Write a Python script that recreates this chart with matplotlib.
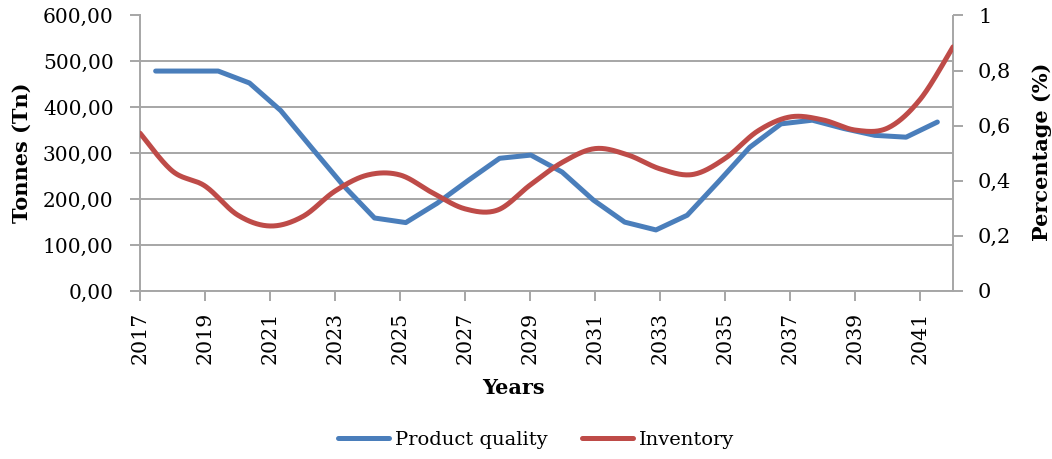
import numpy as np
import matplotlib
matplotlib.use("Agg")
import matplotlib.pyplot as plt
from matplotlib.ticker import FuncFormatter, MultipleLocator
from matplotlib.lines import Line2D

plt.rcParams['font.family'] = ['DejaVu Serif']

# Data
years = list(range(2017, 2043))
product_quality = [479, 479, 479, 453, 393, 311, 230, 159, 149, 191, 241, 289, 296,
                   259, 198, 150, 133, 165, 238, 313, 364, 372, 354, 339, 335, 368]
inventory = [0.573, 0.435, 0.381, 0.276, 0.236, 0.270, 0.363, 0.421, 0.421, 0.356,
             0.298, 0.294, 0.385, 0.468, 0.517, 0.494, 0.443, 0.423, 0.482, 0.581,
             0.632, 0.621, 0.584, 0.592, 0.697, 0.886]
year_labels = years[::2]

BLUE = '#4A7EBB'
RED = '#BE4B48'
GRID = '#A6A6A6'
FS = 14.5


def smooth(x, y, n=30):
    """Bezier smoothing through every point (Catmull-Rom style control points)."""
    x = np.asarray(x, float)
    y = np.asarray(y, float)
    px = np.concatenate([[x[0]], x, [x[-1]]])
    py = np.concatenate([[y[0]], y, [y[-1]]])
    t = np.linspace(0, 1, n)[:, None]
    segs = []
    for i in range(len(x) - 1):
        p0 = np.array([px[i], py[i]])
        p1 = np.array([px[i + 1], py[i + 1]])
        p2 = np.array([px[i + 2], py[i + 2]])
        p3 = np.array([px[i + 3], py[i + 3]])
        c1 = p1 + (p2 - p0) / 6.0
        c2 = p2 - (p3 - p1) / 6.0
        b = ((1 - t) ** 3) * p1 + 3 * ((1 - t) ** 2) * t * c1 \
            + 3 * (1 - t) * t ** 2 * c2 + t ** 3 * p2
        segs.append(b if i == 0 else b[1:])
    pts = np.vstack(segs)
    return pts[:, 0], pts[:, 1]


fig = plt.figure(figsize=(10.52, 4.59), dpi=100)
rect = [140 / 1052, 1 - 291 / 459, (953 - 140) / 1052, (291 - 15.5) / 459]

# Primary axes: product quality in tonnes, categories centred between ticks
ax = fig.add_axes(rect)
ax.set_xlim(-0.5, len(product_quality) - 0.5)
ax.set_ylim(0, 600)
ax.plot(np.arange(len(product_quality)), product_quality, color=BLUE, lw=3.6,
        solid_joinstyle='round', solid_capstyle='round', zorder=3)
ax.yaxis.set_major_locator(MultipleLocator(100))
ax.yaxis.set_major_formatter(FuncFormatter(lambda v, p: f"{v:.2f}".replace('.', ',')))
ax.yaxis.grid(True, color=GRID, lw=1.4)
ax.set_axisbelow(True)
ax.set_xticks([])
for s in ('top', 'right', 'bottom'):
    ax.spines[s].set_visible(False)
ax.spines['left'].set_color(GRID)
ax.spines['left'].set_linewidth(1.4)
ax.tick_params(axis='y', length=7, width=1.4, color=GRID, labelsize=FS, pad=12)

# Secondary axes: inventory percentage, points on the year ticks
ax2 = fig.add_axes(rect)
ax2.patch.set_visible(False)
ax2.set_xlim(years[0], years[-1])
ax2.set_ylim(0, 1)
sx, sy = smooth(years, inventory)
ax2.plot(sx, sy, color=RED, lw=3.6, solid_capstyle='round', zorder=4)
ax2.yaxis.tick_right()
ax2.yaxis.set_major_locator(MultipleLocator(0.2))
ax2.yaxis.set_major_formatter(FuncFormatter(
    lambda v, p: "0" if abs(v) < 1e-9 else ("1" if abs(v - 1) < 1e-9 else f"{v:.1f}".replace('.', ','))))
ax2.set_xticks(year_labels)
ax2.set_xticklabels([str(y) for y in year_labels], rotation=90)
for s in ('top', 'left'):
    ax2.spines[s].set_visible(False)
for s in ('right', 'bottom'):
    ax2.spines[s].set_color(GRID)
    ax2.spines[s].set_linewidth(1.4)
ax2.tick_params(axis='y', length=7, width=1.4, color=GRID, labelsize=FS + 0.5, pad=11)
ax2.tick_params(axis='x', length=7, width=1.4, color=GRID, labelsize=14.8, pad=8)

# Axis titles
fig.text(22 / 1052, 1 - 153 / 459, 'Tonnes (Tn)', rotation=90, fontsize=15,
         fontweight='bold', ha='center', va='center')
fig.text(1042 / 1052, 1 - 152 / 459, 'Percentage (%)', rotation=90, fontsize=15,
         fontweight='bold', ha='center', va='center')
fig.text(513 / 1052, 1 - 388 / 459, 'Years', fontsize=15,
         fontweight='bold', ha='center', va='center')

handles = [Line2D([], [], color=BLUE, lw=3.6, solid_capstyle='round'),
           Line2D([], [], color=RED, lw=3.6, solid_capstyle='round')]
fig.legend(handles, ['Product quality', 'Inventory'], loc='center',
           bbox_to_anchor=(536 / 1052, 1 - 440 / 459), ncol=2, frameon=False,
           fontsize=14, handlelength=2.6, handletextpad=0.3, columnspacing=1.8)

fig.savefig('out.png', dpi=100)
